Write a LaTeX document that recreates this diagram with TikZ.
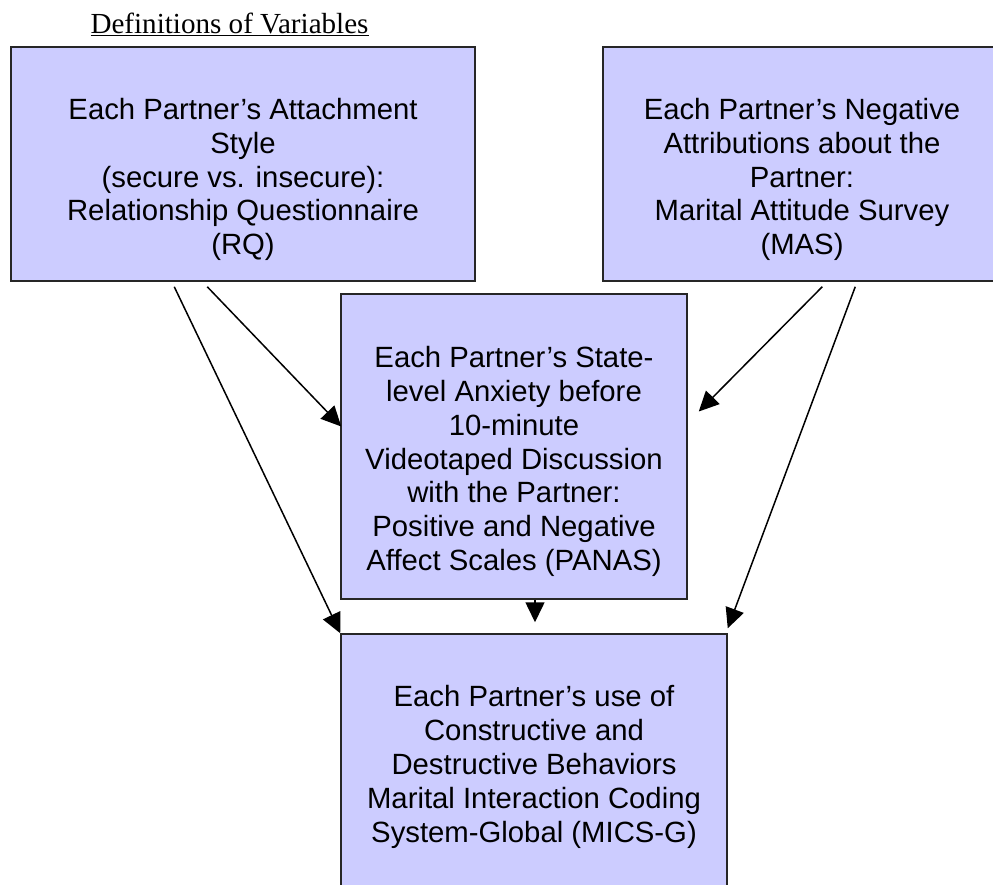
\documentclass[tikz,border=0pt]{standalone}
\usepackage{fontspec}
\setmainfont{Liberation Sans}
\newfontfamily\headfont{Liberation Serif}
\usetikzlibrary{arrows.meta}
\definecolor{boxfill}{HTML}{CCCCFF}
\tikzset{
  varbox/.style={draw=black!85, line width=1.5pt, fill=boxfill, inner sep=0pt, rectangle},
  vartext/.style={align=center, inner sep=0pt, font=\fontsize{29.3}{33.8}\selectfont, text=black},
  conn/.style={line width=1.5pt, -{Triangle[length=20pt,width=19pt]}}
}
\begin{document}
\begin{tikzpicture}[x=1pt,y=-1pt]
\useasboundingbox (0,0) rectangle (993,884);
\clip (0,0) rectangle (993,884);
\fill[white] (0,0) rectangle (993,884);
\node[font=\headfont\fontsize{29.1}{33}\selectfont, inner sep=0pt] (head) at (229.5,24) {\underline{Definitions of Variables}};
\node[varbox, minimum width=464pt, minimum height=234pt] (A) at (243,164) {};
\node[varbox, minimum width=398pt, minimum height=234pt] (B) at (802,164) {};
\node[varbox, minimum width=346pt, minimum height=305pt] (C) at (514,446.5) {};
\node[varbox, minimum width=386pt, minimum height=266pt] (D) at (534,767) {};
\node[vartext] (At) at (243,179.5) {Each Partner’s Attachment\\Style\\(secure vs. insecure):\\Relationship Questionnaire\\(RQ)};
\node[vartext] (Bt) at (802,179.5) {Each Partner’s Negative\\Attributions about the\\Partner:\\Marital Attitude Survey\\(MAS)};
\node[vartext] (Ct) at (514,461.5) {Each Partner’s State-\\level Anxiety before\\10-minute\\Videotaped Discussion\\with the Partner:\\Positive and Negative\\Affect Scales (PANAS)};
\node[vartext] (Dt) at (534,767) {Each Partner’s use of\\Constructive and\\Destructive Behaviors\\Marital Interaction Coding\\System-Global (MICS-G)};
\draw[conn] ([shift={(164,5)}]A.south west) -- (D.north west);
\draw[conn] ([shift={(197,5)}]A.south west) -- ([shift={(1,-20)}]C.west);
\draw[conn] ([shift={(220,5)}]B.south west) -- ([shift={(11,-35)}]C.east);
\draw[conn] ([shift={(253,5)}]B.south west) -- ([shift={(0,-5)}]D.north east);
\draw[conn] ([shift={(21,0)}]C.south) -- ([shift={(1,-11)}]D.north);
\end{tikzpicture}
\end{document}
